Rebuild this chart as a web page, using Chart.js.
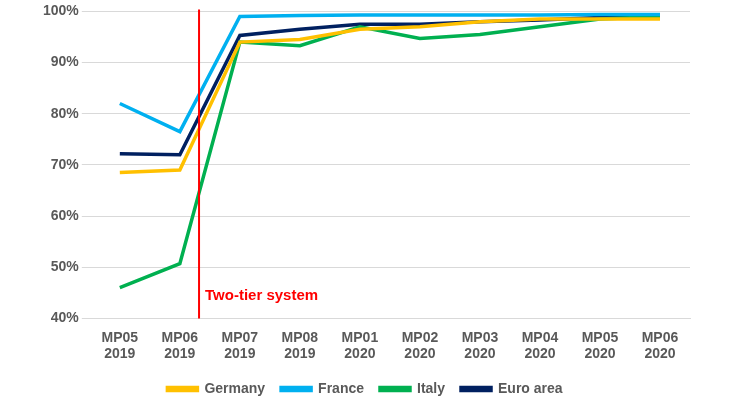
<!DOCTYPE html>
<html><head><meta charset="utf-8">
<script src="https://cdn.jsdelivr.net/npm/chart.js@4/dist/chart.umd.min.js"></script>
<style>html,body{margin:0;padding:0;background:#fff}#w{width:730px;height:410px}</style>
</head><body><div id="w"><canvas id="c"></canvas></div>
<script>
const categories=[["MP05","2019"],["MP06","2019"],["MP07","2019"],["MP08","2019"],["MP01","2020"],["MP02","2020"],["MP03","2020"],["MP04","2020"],["MP05","2020"],["MP06","2020"]];
const germany=[68.5,69,94,94.5,96.5,97,98,98.5,98.5,98.5];
const france=[82,76.5,99,99.2,99.3,99.3,99.3,99.3,99.4,99.4];
const italy=[46,50.7,94,93.3,97,94.7,95.5,97,98.5,99];
const euroArea=[72.2,72,95.3,96.5,97.5,97.5,98,98.3,98.8,98.8];
const markerIndex=1.32;
const markerLabel="Two-tier system";
const F="'Liberation Sans', Arial, sans-serif";
const vline={id:'vline',afterDatasetsDraw(ch){const x=ch.scales.x,y=ch.scales.y,c=ch.ctx;
const p0=x.getPixelForValue(1),p1=x.getPixelForValue(2);const px=p0+(p1-p0)*(markerIndex-1);
c.save();c.strokeStyle='#ff0000';c.lineWidth=2;c.beginPath();c.moveTo(px,y.top-2);c.lineTo(px,y.bottom);c.stroke();
c.fillStyle='#ff0000';c.font='bold 15px '+F;c.textBaseline='middle';c.fillText(markerLabel,px+6,y.getPixelForValue(44.5));c.restore();}};
const ds=(l,d,col)=>({label:l,data:d,borderColor:col,backgroundColor:col,borderWidth:3.5,pointRadius:0,tension:0});
new Chart(document.getElementById('c'),{type:'line',data:{labels:categories,datasets:[
ds('Germany',germany,'#ffc000'),ds('France',france,'#00b0f0'),ds('Italy',italy,'#00b050'),ds('Euro area',euroArea,'#002060')]},
options:{responsive:true,maintainAspectRatio:false,animation:false,
layout:{padding:{left:40,right:40,top:8,bottom:4}},
plugins:{legend:{position:'bottom',labels:{boxWidth:30,boxHeight:3,color:'#595959',font:{family:F,size:14,weight:'bold'},padding:16}},tooltip:{enabled:false}},
scales:{x:{offset:true,grid:{display:false},border:{color:'#d9d9d9'},ticks:{color:'#595959',font:{family:F,size:14,weight:'bold'},maxRotation:0}},
y:{min:40,max:100,ticks:{stepSize:10,color:'#595959',font:{family:F,size:14,weight:'bold'},callback:v=>v+'%'},grid:{color:'#d9d9d9'},border:{display:false}}}},
plugins:[vline]});
</script></body></html>
